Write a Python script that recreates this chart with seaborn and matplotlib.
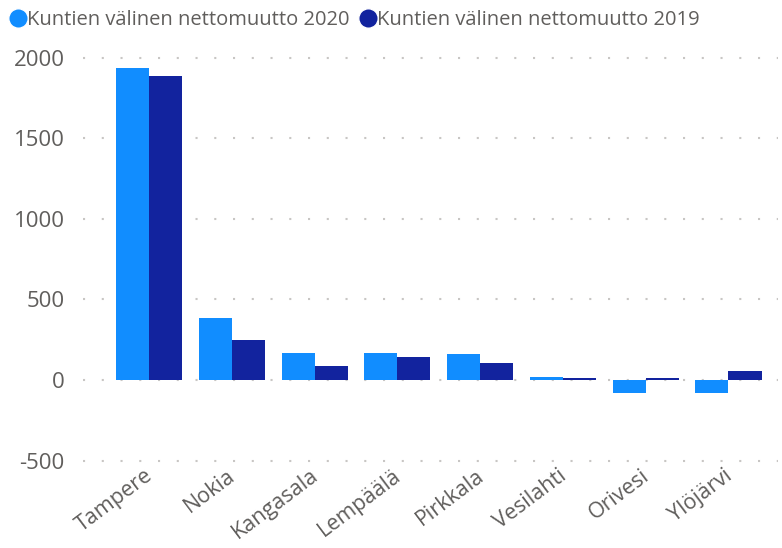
import pandas as pd
import numpy as np
import matplotlib.pyplot as plt
import matplotlib.transforms as mtransforms
import seaborn as sns
from matplotlib.lines import Line2D

kunnat = ["Tampere", "Nokia", "Kangasala", "Lempäälä", "Pirkkala", "Vesilahti", "Orivesi", "Ylöjärvi"]
muutto_2020 = [1938, 385, 167, 165, 159, 17, -78, -80]
muutto_2019 = [1889, 246, 87, 142, 105, 10, 10, 58]
sarjat = ["Kuntien välinen nettomuutto 2020", "Kuntien välinen nettomuutto 2019"]
varit = ["#118DFF", "#12239E"]
y_ticks = [-500, 0, 500, 1000, 1500, 2000]

df = pd.DataFrame({
    "kunta": kunnat * 2,
    "arvo": muutto_2020 + muutto_2019,
    "sarja": [sarjat[0]] * len(kunnat) + [sarjat[1]] * len(kunnat),
})

sns.set_style("white")
plt.rcParams['font.family'] = ['Open Sans', 'DejaVu Sans']
grey = "#605E5C"

fig = plt.figure(figsize=(7.82, 5.48), dpi=100)
ax = fig.add_axes([0.106, 0.142, 0.889, 0.77])

sns.barplot(data=df, x="kunta", y="arvo", hue="sarja", palette=varit,
            width=0.8, gap=0, saturation=1, legend=False, linewidth=0, ax=ax)

ax.set_ylim(-560, 2060)
ax.set_xlim(-0.8, 7.6)
ax.set_yticks(y_ticks)
ax.set_yticklabels([str(v) for v in y_ticks], fontsize=16, color=grey)
ax.set_xticks(range(len(kunnat)))
ax.set_xticklabels(kunnat, rotation=37, ha="right", rotation_mode="anchor",
                   fontsize=15.5, color=grey)
ax.tick_params(axis="y", length=0, pad=13)
ax.tick_params(axis="x", length=0, pad=0)
offset = mtransforms.ScaledTranslation(-0.05, 0.05, fig.dpi_scale_trans)
for lbl in ax.get_xticklabels():
    lbl.set_transform(lbl.get_transform() + offset)
ax.set_xlabel("")
ax.set_ylabel("")
for s in ax.spines.values():
    s.set_visible(False)
ax.yaxis.grid(True, color="#C8C6C4", linestyle=(0, (1, 8)), linewidth=1.5)
ax.set_axisbelow(True)

handles = [Line2D([0], [0], marker="o", color="w", markerfacecolor=c,
                  markersize=14, linewidth=0) for c in varit]
fig.legend(handles, sarjat, loc="upper left", bbox_to_anchor=(-0.016, 1.015),
           ncol=2, frameon=False, fontsize=14.5, labelcolor=grey,
           handletextpad=-0.15, columnspacing=0.35, handlelength=1.2)

plt.savefig("out.png", dpi=100)
